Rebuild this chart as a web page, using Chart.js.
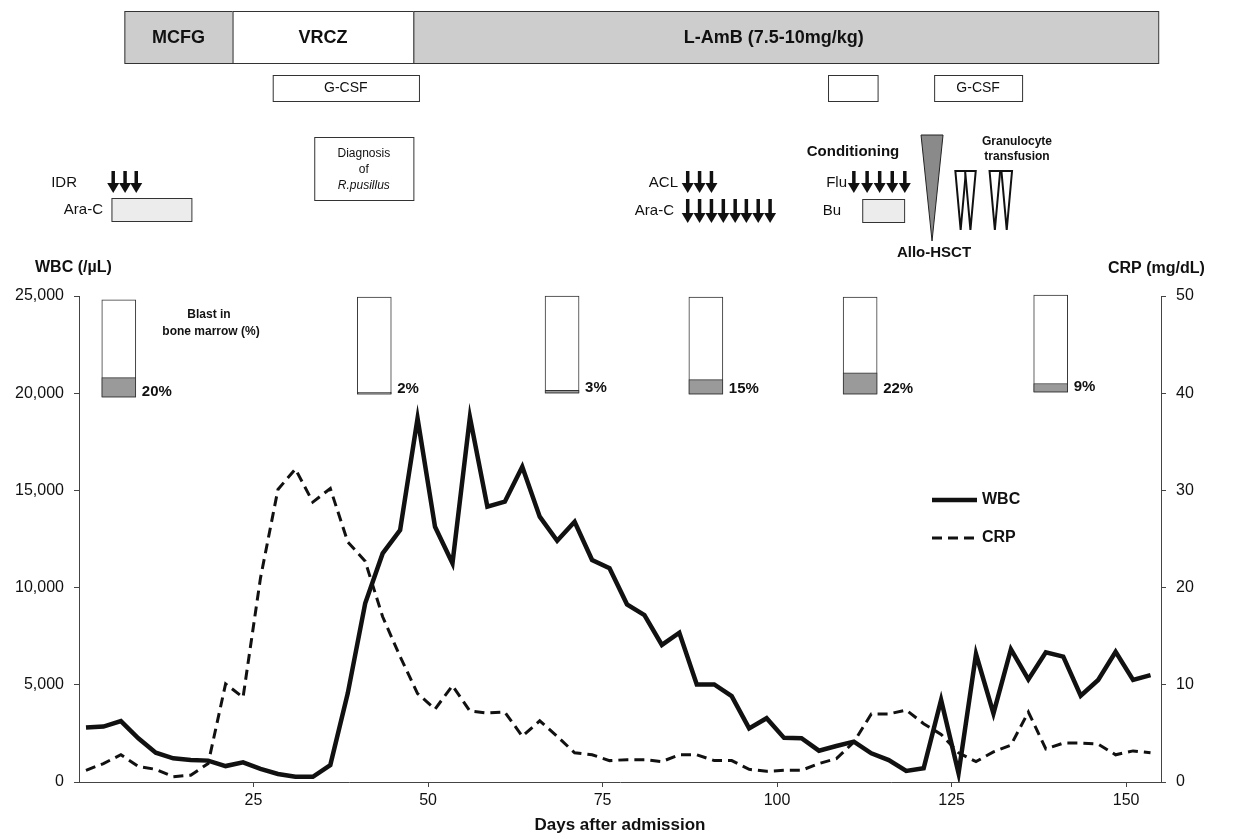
<!DOCTYPE html>
<html>
<head>
<meta charset="utf-8">
<script src="https://cdn.jsdelivr.net/npm/chart.js@4.4.1/dist/chart.umd.min.js"></script>
<style>
  html, body { margin: 0; padding: 0; background: #fff; }
  #wrap { width: 1234px; height: 839px; }
</style>
</head>
<body>
<div id="wrap"><canvas id="chart" width="1234" height="839"></canvas></div>
<script>
// sampling days (days after admission)
const days = [1, 3.5, 6, 8.5, 11, 13.5, 16, 18.5, 21, 23.5, 26, 28.5, 31, 33.5, 36, 38.5, 41, 43.5, 46, 48.5,
  51, 53.5, 56, 58.5, 61, 63.5, 66, 68.5, 71, 73.5, 76, 78.5, 81, 83.5, 86, 88.5, 91, 93.5, 96, 98.5,
  101, 103.5, 106, 108.5, 111, 113.5, 116, 118.5, 121, 123.5, 126, 128.5, 131, 133.5, 136, 138.5, 141, 143.5, 146, 148.5,
  151, 153.5];
const wbc = [2800, 2850, 3130, 2250, 1510, 1220, 1130, 1100, 820, 1010,
  670, 410, 270, 270, 870, 4560, 9190, 11760, 12960, 18700,
  13130, 11250, 18760, 14160, 14420, 16220, 13650, 12410, 13390, 11420,
  11000, 9140, 8590, 7050, 7680, 5020, 5020, 4420, 2760, 3280,
  2270, 2250, 1610, 1850, 2075, 1475, 1130, 566, 703, 4220,
  446, 6580, 3530, 6830, 5280, 6670, 6450, 4440, 5250, 6700,
  5250, 5500];
const crp = [1.2, 1.9, 2.8, 1.6, 1.3, 0.55, 0.7, 1.9, 10.1, 8.7,
  21, 30.1, 32.2, 28.8, 30.2, 24.7, 22.7, 17.0, 12.9, 9.1,
  7.5, 9.9, 7.3, 7.1, 7.2, 4.7, 6.3, 4.7, 3.0, 2.8,
  2.2, 2.3, 2.3, 2.1, 2.8, 2.8, 2.2, 2.2, 1.3, 1.1,
  1.2, 1.2, 1.9, 2.4, 4.1, 7.0, 7.0, 7.4, 6.0, 4.9,
  3.0, 2.1, 3.1, 3.8, 7.2, 3.4, 4.0, 4.0, 3.9, 2.8,
  3.2, 3.0];

// bone marrow blast checks
const blastDays = [5.7, 42.3, 69.2, 89.8, 111.9, 139.2];
const blastPct = [20, 2, 3, 15, 22, 9];
const blastBase = [19800, 19950, 20000, 19950, 19950, 20050];
const blastSpan = 5000;

const xTicks = [25, 50, 75, 100, 125, 150];

// treatment timeline (days)
const antifungalNames = ['MCFG', 'VRCZ', 'L-AmB (7.5-10mg/kg)'];
const antifungalStart = [6.5, 22.0, 47.9];
const antifungalEnd = [22.0, 47.9, 154.6];
const gcsfNames = ['G-CSF', '', 'G-CSF'];
const gcsfStart = [27.75, 107.3, 122.5];
const gcsfEnd = [48.7, 114.4, 135.1];
const diagnosisSpan = [33.7, 47.9];
const idrDays = [4.9, 6.6, 8.2];
const araC1Span = [4.65, 16.1];
const aclDays = [87.2, 88.9, 90.6];
const araC2Days = [87.2, 88.9, 90.6, 92.3, 94.0, 95.6, 97.3, 99.0];
const fluDays = [111.0, 112.9, 114.7, 116.5, 118.3];
const buSpan = [112.2, 118.2];
const alloDay = 122.2;
const granDays = [126.3, 127.7, 131.2, 132.9];

const FONT = '"Liberation Sans", Arial, sans-serif';
const INK = '#111';

function arrow(ctx, x, y0, y1) {
  ctx.fillStyle = INK;
  ctx.strokeStyle = INK;
  ctx.lineWidth = 3.5;
  ctx.beginPath();
  ctx.moveTo(x, y0);
  ctx.lineTo(x, y1 - 8);
  ctx.stroke();
  ctx.beginPath();
  ctx.moveTo(x - 6, y1 - 10);
  ctx.lineTo(x + 6, y1 - 10);
  ctx.lineTo(x, y1);
  ctx.closePath();
  ctx.fill();
}

function box(ctx, x0, y0, x1, y1, fill) {
  ctx.fillStyle = fill;
  ctx.fillRect(x0, y0, x1 - x0, y1 - y0);
  ctx.lineWidth = 1;
  ctx.strokeStyle = '#333';
  ctx.strokeRect(x0 + 0.5, y0 + 0.5, x1 - x0, y1 - y0);
}

function text(ctx, str, x, y, size, bold, align, italic) {
  ctx.font = (italic ? 'italic ' : '') + (bold ? 'bold ' : '') + size + 'px ' + FONT;
  ctx.textAlign = align || 'center';
  ctx.textBaseline = 'middle';
  ctx.fillStyle = INK;
  ctx.fillText(str, x, y);
}

const annotations = {
  id: 'annotations',
  afterDraw(chart) {
    const { ctx, scales } = chart;
    const px = d => scales.x.getPixelForValue(d);
    const yW = v => scales.y.getPixelForValue(v);
    ctx.save();

    // antifungal bar
    antifungalNames.forEach((name, i) => {
      const x0 = px(antifungalStart[i]), x1 = px(antifungalEnd[i]);
      box(ctx, x0, 11, x1, 63, i === 1 ? '#ffffff' : '#cdcdcd');
      text(ctx, name, (x0 + x1) / 2 - (i === 2 ? 12 : 0), 38, 18, true);
    });

    // G-CSF boxes
    gcsfNames.forEach((name, i) => {
      const x0 = px(gcsfStart[i]), x1 = px(gcsfEnd[i]);
      box(ctx, x0, 75, x1, 101, '#ffffff');
      if (name) text(ctx, name, (x0 + x1) / 2, 88, 14, false);
    });

    // diagnosis box
    {
      const x0 = px(diagnosisSpan[0]), x1 = px(diagnosisSpan[1]);
      box(ctx, x0, 137, x1, 200, '#ffffff');
      const cx = (x0 + x1) / 2;
      text(ctx, 'Diagnosis', cx, 154, 12, false);
      text(ctx, 'of', cx, 170, 12, false);
      text(ctx, 'R.pusillus', cx, 186, 12, false, 'center', true);
    }

    // induction
    text(ctx, 'IDR', 77, 183, 15, false, 'right');
    idrDays.forEach(d => arrow(ctx, px(d), 171, 193));
    text(ctx, 'Ara-C', 103, 210, 15, false, 'right');
    box(ctx, px(araC1Span[0]), 198, px(araC1Span[1]), 221, '#ececec');

    // ACL / Ara-C
    text(ctx, 'ACL', 678, 183, 15, false, 'right');
    aclDays.forEach(d => arrow(ctx, px(d), 171, 193));
    text(ctx, 'Ara-C', 674, 211, 15, false, 'right');
    araC2Days.forEach(d => arrow(ctx, px(d), 199, 223));

    // conditioning
    text(ctx, 'Conditioning', 853, 152, 15, true);
    text(ctx, 'Flu', 847, 183, 15, false, 'right');
    fluDays.forEach(d => arrow(ctx, px(d), 171, 193));
    text(ctx, 'Bu', 841, 211, 15, false, 'right');
    box(ctx, px(buSpan[0]), 199, px(buSpan[1]), 222, '#ececec');

    // allo-HSCT
    {
      const cx = px(alloDay);
      ctx.beginPath();
      ctx.moveTo(cx - 11, 135);
      ctx.lineTo(cx + 11, 135);
      ctx.lineTo(cx, 241);
      ctx.closePath();
      ctx.fillStyle = '#8a8a8a';
      ctx.fill();
      ctx.lineWidth = 1;
      ctx.strokeStyle = '#222';
      ctx.stroke();
      text(ctx, 'Allo-HSCT', cx + 2, 253, 15, true);
    }

    // granulocyte transfusion
    granDays.forEach(d => {
      const cx = px(d);
      ctx.beginPath();
      ctx.moveTo(cx - 5.3, 171);
      ctx.lineTo(cx + 5.3, 171);
      ctx.lineTo(cx, 230);
      ctx.closePath();
      ctx.fillStyle = '#fff';
      ctx.fill();
      ctx.lineWidth = 2;
      ctx.strokeStyle = INK;
      ctx.stroke();
    });
    text(ctx, 'Granulocyte', 1017, 142, 12, true);
    text(ctx, 'transfusion', 1017, 157, 12, true);

    // axis titles
    text(ctx, 'WBC (/\u00b5L)', 35, 268, 16, true, 'left');
    text(ctx, 'CRP (mg/dL)', 1108, 269, 16, true, 'left');

    // blast labels
    text(ctx, 'Blast in', 209, 315, 12, true);
    text(ctx, 'bone marrow (%)', 211, 332, 12, true);
    blastDays.forEach((d, i) => {
      text(ctx, blastPct[i] + '%', px(d) + 23, yW(blastBase[i]) - 5, 15, true, 'left');
    });

    // legend
    const ds = chart.data.datasets;
    [[0, 500], [1, 538]].forEach(([k, y]) => {
      ctx.beginPath();
      ctx.setLineDash(ds[k].borderDash || []);
      ctx.lineWidth = ds[k].borderWidth;
      ctx.strokeStyle = INK;
      ctx.moveTo(932, y);
      ctx.lineTo(977, y);
      ctx.stroke();
      ctx.setLineDash([]);
      text(ctx, ds[k].label, 982, y, 16, true, 'left');
    });

    ctx.restore();
  }
};

const wbcPoints = days.map((d, i) => ({ x: d, y: wbc[i] }));
const crpPoints = days.map((d, i) => ({ x: d, y: crp[i] }));
const blastBoxes = blastDays.map((d, i) => ({ x: d, y: [blastBase[i], blastBase[i] + blastSpan] }));
const blastFill = blastDays.map((d, i) => ({ x: d, y: [blastBase[i], blastBase[i] + blastSpan * blastPct[i] / 100] }));

const axisColor = '#444';
const tickFont = { family: FONT, size: 16 };

new Chart(document.getElementById('chart'), {
  type: 'line',
  data: {
    datasets: [
      { label: 'WBC', data: wbcPoints, yAxisID: 'y', borderColor: INK, borderWidth: 4.5,
        pointRadius: 0, tension: 0, order: 0, borderJoinStyle: 'miter' },
      { label: 'CRP', data: crpPoints, yAxisID: 'y1', borderColor: INK, borderWidth: 3,
        borderDash: [10, 6], pointRadius: 0, tension: 0, order: 0 },
      { type: 'bar', label: 'blast', data: blastFill, yAxisID: 'y', grouped: false,
        barThickness: 34, backgroundColor: '#9a9a9a', borderColor: '#333', borderWidth: 1,
        borderSkipped: false, order: 1, clip: false },
      { type: 'bar', label: 'marrow', data: blastBoxes, yAxisID: 'y', grouped: false,
        barThickness: 34, backgroundColor: '#ffffff', borderColor: '#333', borderWidth: 1,
        borderSkipped: false, order: 2, clip: false }
    ]
  },
  options: {
    responsive: false,
    animation: false,
    layout: { padding: { top: 296, left: 0, right: 0, bottom: 0 } },
    plugins: { legend: { display: false }, tooltip: { enabled: false } },
    scales: {
      x: {
        type: 'linear', min: 0, max: 155, offset: false,
        afterBuildTicks: s => { s.ticks = xTicks.map(v => ({ value: v })); },
        afterFit: s => { s.height = 57; },
        ticks: { color: INK, font: tickFont, padding: 4, maxRotation: 0 },
        grid: { offset: false, drawOnChartArea: false, drawTicks: true, tickLength: 5, color: axisColor },
        border: { display: true, color: axisColor, width: 1 },
        title: { display: true, text: 'Days after admission', color: INK,
          font: { family: FONT, size: 17, weight: 'bold' }, padding: { top: 0, bottom: 3 } }
      },
      y: {
        position: 'left', min: 0, max: 25000,
        afterFit: s => { s.width = 79; },
        ticks: { stepSize: 5000, color: INK, font: tickFont, padding: 10,
          callback: v => v.toLocaleString('en-US') },
        grid: { drawOnChartArea: false, drawTicks: true, tickLength: 5, color: axisColor },
        border: { display: true, color: axisColor, width: 1 }
      },
      y1: {
        position: 'right', min: 0, max: 50,
        afterFit: s => { s.width = 73; },
        ticks: { stepSize: 10, color: INK, font: tickFont, padding: 10 },
        grid: { drawOnChartArea: false, drawTicks: true, tickLength: 5, color: axisColor },
        border: { display: true, color: axisColor, width: 1 }
      }
    }
  },
  plugins: [annotations]
});
</script>
</body>
</html>
